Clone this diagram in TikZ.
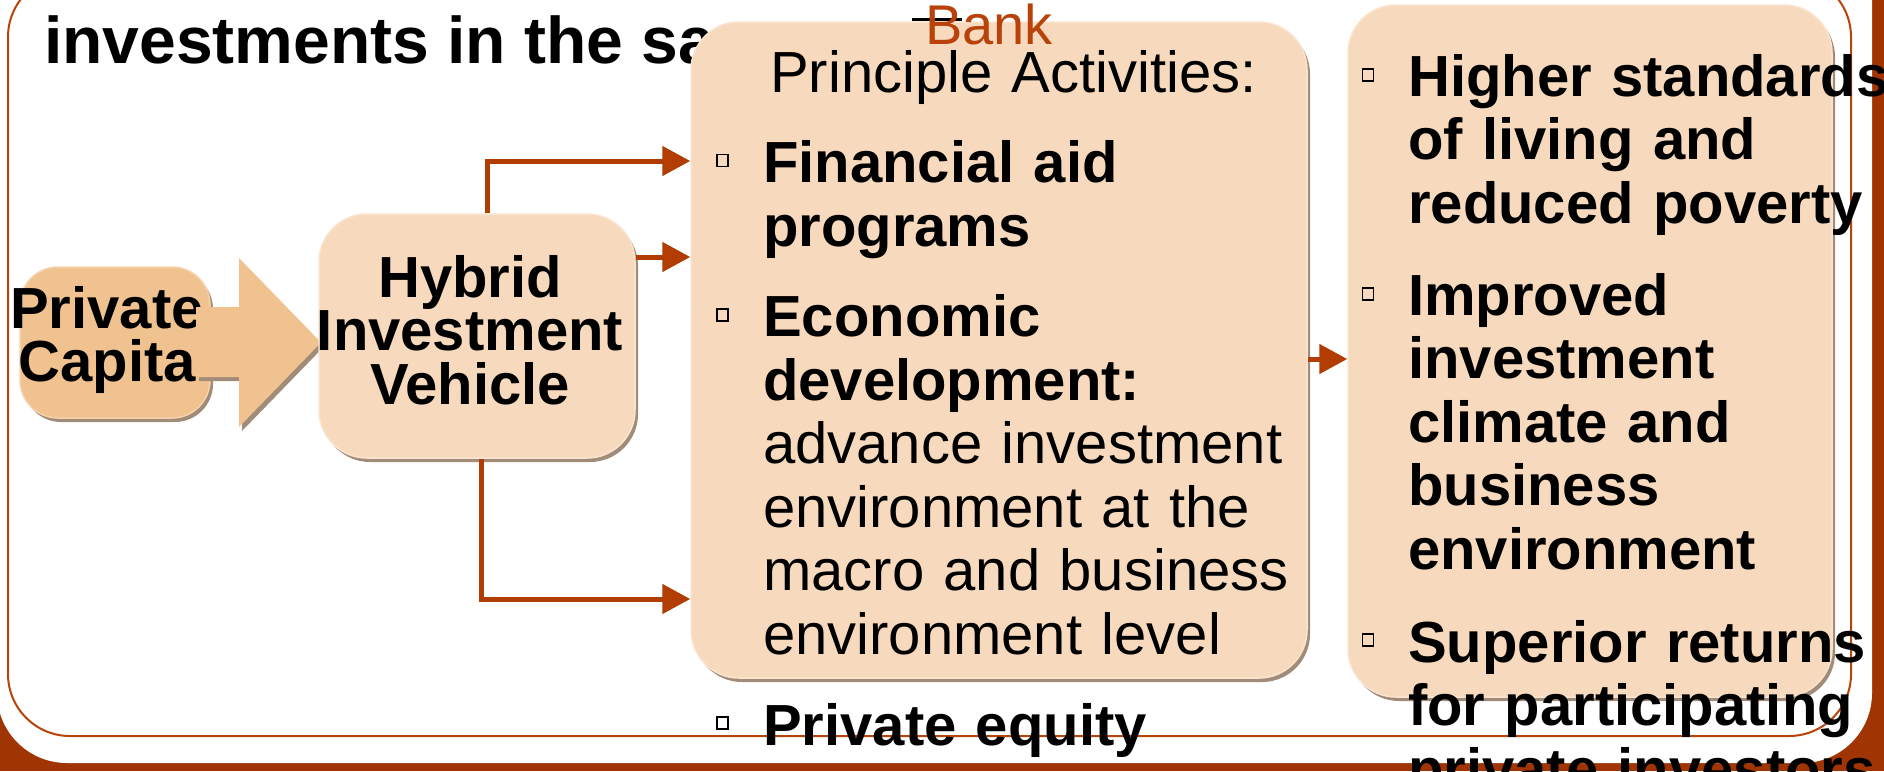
\documentclass[tikz,border=0pt]{standalone}
\usepackage{fontspec}
\setmainfont{Liberation Sans}
\usetikzlibrary{arrows.meta,shadows}
\definecolor{framebg}{RGB}{160,52,2}
\definecolor{framec}{RGB}{185,68,10}
\definecolor{connc}{RGB}{178,61,3}
\definecolor{bankc}{RGB}{184,66,10}
\definecolor{boxfill}{RGB}{247,218,190}
\definecolor{boxedge}{RGB}{250,228,208}
\definecolor{pcfill}{RGB}{240,194,144}
\definecolor{pcedge}{RGB}{245,210,172}
\definecolor{shadowc}{RGB}{160,140,120}
\tikzset{
  box/.style={rectangle, rounded corners=48pt, fill=boxfill, draw=boxedge, line width=1.5pt, inner sep=0pt,
    drop shadow={shadow xshift=3pt,shadow yshift=-4pt,fill=shadowc,opacity=1}},
  pcbox/.style={box, fill=pcfill, draw=pcedge, rounded corners=38pt},
  conn/.style={draw=connc, line width=5pt, -{Triangle[length=28pt,width=29pt]}},
  bul/.style={rectangle, draw=black, line width=1.8pt, minimum width=11pt, minimum height=12pt, inner sep=0pt},
  body/.style={inner sep=0pt, anchor=base west, text width=620pt, align=left, font=\fontsize{58}{63.6}\selectfont},
  bbody/.style={body, font=\fontsize{58}{63.6}\selectfont\bfseries},
  ctext/.style={inner sep=0pt, anchor=base, align=center, font=\fontsize{58}{53.5}\selectfont\bfseries},
}
\begin{document}
\begin{tikzpicture}[x=1pt,y=-1pt]
\clip (0,0) rectangle (1884,771);
% background
\fill[framebg] (0,0) rectangle (1884,771);
\fill[white, rounded corners=70pt] (-3,-80) rectangle (1872,763);
\draw[framec, line width=2pt, rounded corners=62pt] (8,-25) rectangle (1851,736);
% title
\node[inner sep=0pt, anchor=base west, font=\fontsize{66}{70}\selectfont\bfseries] (title) at (44,63.3) {investments in the sa};
\draw[black, line width=3pt] (912,19.5) -- (962,19.5);
% private capital
\node[pcbox, minimum width=190pt, minimum height=151pt] (pc) at (115,342.5) {};
\node[inner sep=0pt, anchor=base west, text width=260pt, align=left, font=\fontsize{58}{53.5}\selectfont\bfseries] (pctext) at (10,328) {Private\\\hspace*{8.5pt}Capital};
\fill[pcfill, drop shadow={shadow xshift=3pt,shadow yshift=-4pt,fill=shadowc,opacity=1}]
  (196,307) -- (239,307) -- (239,258) -- (321,342.5) -- (239,427) -- (239,377) -- (196,377) -- cycle;
% hybrid
\node[box, minimum width=316pt, minimum height=244pt] (hyb) at (477,336) {};
\node[ctext, text width=330pt] (hybtext) at (470,297) {Hybrid\\Investment\\Vehicle};
% boxes
\node[box, minimum width=616pt, minimum height=656pt] (mid) at (999,350) {};
\node[box, minimum width=484pt, minimum height=692pt] (res) at (1590,351) {};
% connectors
\draw[conn] ([xshift=10pt]hyb.north) |- ([yshift=189pt]mid.west);
\draw[conn] ([yshift=79pt]hyb.east) -- ([yshift=79pt]hyb.east -| mid.west);
\draw[conn] ([xshift=4pt]hyb.south) |- ([yshift=-249pt]mid.west);
\draw[conn] ([yshift=-9pt]mid.east) -- ([yshift=-9pt]mid.east -| res.west);
% middle texts
\node[anchor=base west, inner sep=0pt, text=bankc, font=\fontsize{56}{60}\selectfont] (bank) at (925,44) {Bank};
\node[body] (pa) at (770,92) {Principle Activities:};
\node[bul] (m1) at (722.5,160.5) {};
\node[bbody] (m1t) at (763,182.6) {Financial aid\\programs};
\node[bul] (m2) at (722.5,315) {};
\node[body] (m2t) at (763,336.5) {{\bfseries Economic\\development:}\\advance investment\\environment at the\\macro and business\\environment level};
\node[bul] (m3) at (722.5,723) {};
\node[bbody] (m3t) at (763,745) {Private equity};
% right texts
\node[bul] (r1) at (1368,75) {};
\node[bbody] (r1t) at (1408,96) {Higher standards\\of living and\\reduced poverty};
\node[bul] (r2) at (1368,294) {};
\node[bbody] (r2t) at (1408,315) {Improved\\investment\\climate and\\business\\environment};
\node[bul] (r3) at (1368,640) {};
\node[bbody] (r3t) at (1408,662) {Superior returns\\for participating\\private investors};
\end{tikzpicture}
\end{document}
